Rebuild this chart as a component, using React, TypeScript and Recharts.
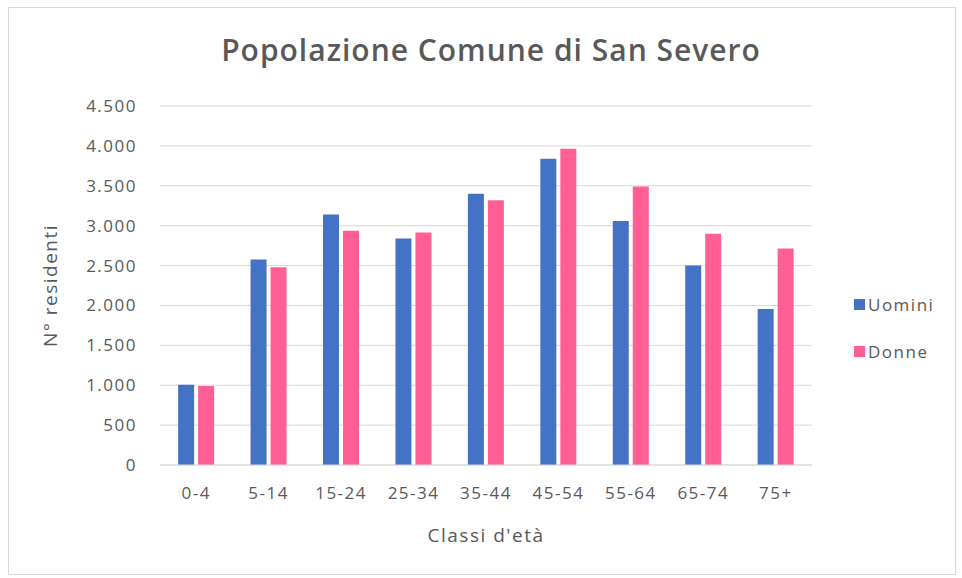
import { Bar, BarChart, CartesianGrid, Legend, XAxis, YAxis } from 'recharts';

const classi = ['0-4', '5-14', '15-24', '25-34', '35-44', '45-54', '55-64', '65-74', '75+'];
const uomini = [1005, 2575, 3140, 2840, 3400, 3840, 3060, 2500, 1955];
const donne = [990, 2480, 2935, 2915, 3320, 3965, 3490, 2900, 2715];
const yTicks = [0, 500, 1000, 1500, 2000, 2500, 3000, 3500, 4000, 4500];
const serie = ['Uomini', 'Donne'];

const data = classi.map((c, i) => ({ classe: c, Uomini: uomini[i], Donne: donne[i] }));

const grey = '#595959';
const font = '"Open Sans", "Noto Sans", sans-serif';

const fmtTick = (v: number) => (v >= 1000 ? `${Math.floor(v / 1000)}.${String(v % 1000).padStart(3, '0')}` : String(v));

function LegendBox(props: any) {
  const items = [...(props.payload || [])].sort(
    (a: any, b: any) => serie.indexOf(String(a.value)) - serie.indexOf(String(b.value))
  );
  return (
    <div style={{ paddingLeft: 42 }}>
      {items.map((it: any) => (
        <div key={it.value} style={{ height: 47, display: 'flex', alignItems: 'center', whiteSpace: 'nowrap' }}>
          <span style={{ width: 11, height: 11, background: it.color, marginRight: 3, display: 'inline-block' }} />
          <span style={{ color: grey, fontSize: 17, letterSpacing: 1.5, fontFamily: font }}>{it.value}</span>
        </div>
      ))}
    </div>
  );
}

export default function App() {
  return (
    <div style={{ position: 'absolute', left: 0, top: 0, width: 962, height: 578, background: '#fff', fontFamily: font }}>
      <div
        style={{
          position: 'absolute',
          left: 8,
          top: 7,
          width: 948,
          height: 568,
          border: '1px solid #d9d9d9',
          boxSizing: 'border-box',
        }}
      />
      <div
        style={{
          position: 'absolute',
          left: 0,
          top: 29,
          width: 982,
          textAlign: 'center',
          fontSize: 30,
          color: grey,
          fontWeight: 600,
          letterSpacing: 1,
        }}
      >
        Popolazione Comune di San Severo
      </div>
      <BarChart
        width={962}
        height={578}
        data={data}
        margin={{ top: 106, right: 20, left: 20, bottom: 33 }}
        barCategoryGap="25%"
        barGap={4}
        style={{ position: 'absolute', left: 0, top: 0 }}
      >
        <CartesianGrid vertical={false} stroke="#d9d9d9" />
        <XAxis
          dataKey="classe"
          height={80}
          stroke="#d9d9d9"
          tickLine={false}
          tickMargin={16}
          tick={{ fill: grey, fontSize: 17, fontFamily: font, letterSpacing: 1.5 }}
          label={{
            value: "Classi d'età",
            position: 'insideBottom',
            offset: 3,
            fill: grey,
            fontSize: 19,
            fontFamily: font,
            style: { letterSpacing: 1.5 },
          }}
        />
        <YAxis
          width={140}
          domain={[0, 4500]}
          ticks={yTicks}
          interval={0}
          axisLine={false}
          tickLine={false}
          tickMargin={17}
          tickFormatter={fmtTick}
          tick={{ fill: grey, fontSize: 17, fontFamily: font, letterSpacing: 1.5 }}
          label={{
            value: 'N° residenti',
            angle: -90,
            position: 'insideLeft',
            offset: 30,
            fill: grey,
            fontSize: 19,
            fontFamily: font,
            style: { textAnchor: 'middle', letterSpacing: 1.5 },
          }}
        />
        <Legend
          layout="vertical"
          align="right"
          verticalAlign="middle"
          content={<LegendBox />}
          wrapperStyle={{ width: 130, top: 281 }}
        />
        <Bar dataKey="Uomini" fill="#4472c4" isAnimationActive={false} />
        <Bar dataKey="Donne" fill="#ff5f95" isAnimationActive={false} />
      </BarChart>
    </div>
  );
}
